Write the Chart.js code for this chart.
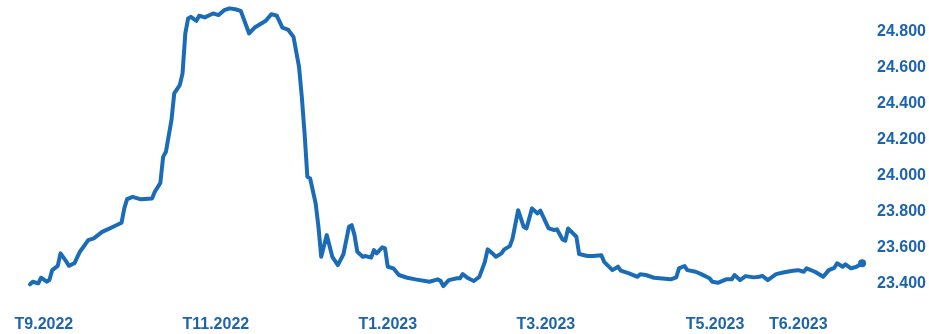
<!DOCTYPE html>
<html>
<head>
<meta charset="utf-8">
<script src="https://cdn.jsdelivr.net/npm/chart.js@4/dist/chart.umd.min.js"></script>
<style>
  html, body { margin: 0; padding: 0; background: #fff; }
  canvas { display: block; }
</style>
</head>
<body>
<canvas id="tyGia" width="929" height="334"></canvas>
<script>
// so ngay tinh tu dau ky (truc hoanh) va ty gia USD/VND tuong ung
const days = [
  0, 1, 3, 4, 6, 7, 8, 10, 11, 13, 14, 16, 18, 21, 23, 26, 28, 30, 33, 34, 35, 37,
  40, 44, 45, 47, 48, 49, 51, 52, 54, 55, 56, 57, 58, 60, 61, 63, 66, 68, 70, 72, 74,
  76, 79, 81, 84, 85, 87, 89, 91, 93, 95, 97, 98, 99, 100, 101, 103, 104, 105, 107, 109, 111, 113,
  115, 116, 117, 118, 120, 121, 123, 124, 125, 127, 128, 129, 131, 133, 136, 139, 144, 147, 148, 149, 151,
  154, 155, 156, 158, 160, 162, 164, 165, 167, 168, 170, 171, 173, 174, 176, 178, 179, 181, 183, 184, 187, 189,
  190, 192, 193, 194, 197, 198, 201, 203, 206, 207, 210, 212, 213, 216, 219, 220, 222, 225, 227,
  231, 233, 234, 236, 237, 240, 242, 245, 246, 248, 251, 253, 254, 256, 258, 261, 263,
  264, 266, 269, 272, 275, 277, 279, 280, 283, 286, 288, 290, 291, 293, 294, 296, 298, 300
];
const rates = [
  23398, 23413, 23404, 23435, 23413, 23422, 23477, 23501, 23570, 23527, 23501, 23515, 23579, 23643, 23653, 23689, 23703, 23717, 23739, 23819, 23870, 23883,
  23869, 23874, 23911, 23960, 24104, 24132, 24307, 24455, 24501, 24566, 24787, 24870, 24879, 24857, 24885, 24876, 24898, 24889, 24916, 24926, 24921,
  24912, 24787, 24820, 24848, 24857, 24894, 24885, 24820, 24809, 24768, 24602, 24436, 24234, 23994, 23985, 23846, 23717, 23551, 23671, 23551, 23505, 23565,
  23717, 23726, 23671, 23579, 23551, 23555, 23546, 23588, 23570, 23603, 23597, 23496, 23487, 23450, 23435, 23426, 23413, 23426, 23418, 23389, 23422,
  23432, 23432, 23455, 23432, 23417, 23440, 23523, 23592, 23566, 23551, 23570, 23592, 23610, 23653, 23809, 23717, 23708, 23819, 23791, 23806, 23708, 23699,
  23703, 23647, 23640, 23708, 23662, 23566, 23555, 23555, 23560, 23523, 23477, 23496, 23474, 23459, 23440, 23454, 23450, 23435, 23432,
  23426, 23437, 23487, 23500, 23477, 23468, 23455, 23432, 23413, 23407, 23426, 23426, 23450, 23422, 23444, 23437, 23440,
  23446, 23422, 23455, 23465, 23474, 23477, 23468, 23487, 23468, 23440, 23477, 23490, 23515, 23496, 23509, 23487, 23496, 23515
];

// nhan thang tren truc hoanh
const monthLabels = ['T9.2022', 'T11.2022', 'T1.2023', 'T3.2023', 'T5.2023', 'T6.2023'];
const monthDays = [5, 67, 129, 186, 247, 277];

// vach chia truc tung
const rateTicks = [23400, 23600, 23800, 24000, 24200, 24400, 24600, 24800];

const blue = '#1b6cb6';
const textBlue = '#1c64ad';
const tickFont = { family: "'Liberation Sans', Arial, sans-serif", size: 16, weight: 'bold' };

function formatVnd(v) {
  return String(v).replace(/\B(?=(\d{3})+(?!\d))/g, '.');
}

const points = days.map((d, i) => ({ x: d, y: rates[i] }));
const lastIdx = points.length - 1;

const ctx = document.getElementById('tyGia').getContext('2d');
const tyGiaChart = new Chart(ctx, {
  type: 'line',
  data: {
    datasets: [{
      data: points,
      borderColor: blue,
      backgroundColor: blue,
      borderWidth: 4,
      borderJoinStyle: 'round',
      borderCapStyle: 'round',
      tension: 0,
      clip: false,
      pointRadius: ctx => ctx.dataIndex === lastIdx ? 4 : 0,
      pointBorderWidth: 0,
      pointBackgroundColor: blue
    }]
  },
  options: {
    responsive: false,
    animation: false,
    layout: { padding: { left: 30, right: 3, top: 10, bottom: 0 } },
    plugins: {
      legend: { display: false },
      tooltip: { enabled: false }
    },
    scales: {
      x: {
        type: 'linear',
        min: 0,
        max: 300,
        grid: { display: false, drawTicks: true, tickLength: 19 },
        border: { display: false },
        afterBuildTicks: axis => {
          axis.ticks = monthDays.map(v => ({ value: v }));
        },
        ticks: {
          autoSkip: false,
          maxRotation: 0,
          padding: 0,
          color: textBlue,
          font: tickFont,
          callback: value => {
            const i = monthDays.indexOf(value);
            return i >= 0 ? monthLabels[i] : '';
          }
        }
      },
      y: {
        position: 'right',
        min: 23335,
        max: 24917,
        grid: { display: false, drawTicks: true, tickLength: 15 },
        border: { display: false },
        afterBuildTicks: axis => {
          axis.ticks = rateTicks.map(v => ({ value: v }));
        },
        ticks: {
          padding: 0,
          color: textBlue,
          font: tickFont,
          callback: value => formatVnd(value)
        }
      }
    }
  }
});
</script>
</body>
</html>
